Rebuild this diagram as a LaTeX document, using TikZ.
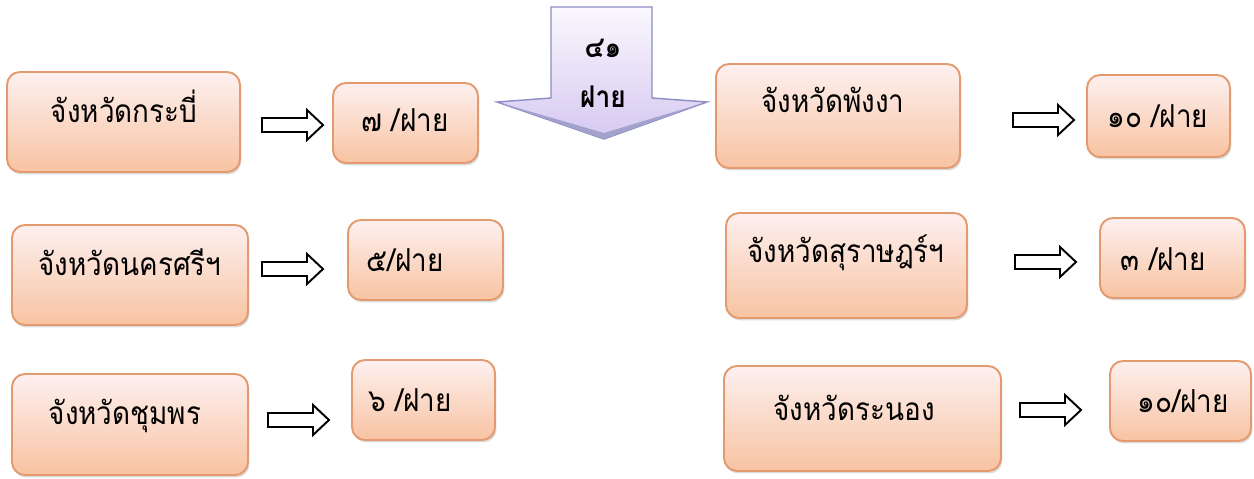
\documentclass[tikz,border=0pt]{standalone}
\usepackage{fontspec}
\newfontfamily\thaifont[Script=Thai,FakeStretch=0.88]{Loma}
\usetikzlibrary{fit,shadows,calc}
\definecolor{boxline}{HTML}{E39A6E}
\definecolor{boxtop}{HTML}{FDF0EF}
\definecolor{boxbot}{HTML}{F8C3A2}
\definecolor{bigline}{HTML}{8C8CC8}
\definecolor{bigtop}{HTML}{FBF8FE}
\definecolor{bigbot}{HTML}{D5C8F0}
\definecolor{bigdark}{HTML}{7C7AB8}
\tikzset{
  pbox/.style={draw=boxline, line width=1.1pt, rounded corners=0.26cm,
    top color=boxtop, bottom color=boxbot, inner sep=0pt,
    drop shadow={opacity=0.28, shadow xshift=0.8pt, shadow yshift=-1.4pt}},
  ptext/.style={font=\thaifont\fontsize{18}{21}\selectfont, inner sep=0pt, anchor=base},
  btext/.style={font=\thaifont\bfseries\fontsize{17}{20}\selectfont, inner sep=0pt, anchor=base},
  blockarr/.pic={\draw[line width=1.1pt, fill=white, line join=miter]
    (0,-7) -- (45,-7) -- (45,-15) -- (61,0) -- (45,15) -- (45,7) -- (0,7) -- cycle;}
}
\begin{document}
\begin{tikzpicture}[x=0.02cm,y=-0.02cm]
\useasboundingbox (0,0) rectangle (1254,479);
% big arrow
\path[draw=bigline, line width=0.8pt, top color=bigtop, bottom color=bigbot, line join=miter]
  (551,7) coordinate (bt) -- (652,7) -- (652,98) -- (707,102) -- (604,139) coordinate (tip)
  -- (497,102) -- (551,98) -- cycle;
\fill[bigdark!70] (497,102) -- (604,139) -- (707,102) -- (604,133) -- cycle;
\node[btext] (n41) at (603,58) {๔๑};
\node[btext] (nfai) at (603,108) {ฝาย};
% left column
\node[pbox, fit={(7,72) (240,172)}] (p1) {};
\node[ptext] (t1) at (124,123) {จังหวัดกระบี่};
\node[pbox, fit={(333,83) (478,163)}] (c1) {};
\node[ptext] (u1) at (405,132) {๗ /ฝาย};
\pic (a1) at (262,125) {blockarr};

\node[pbox, fit={(12,225) (248,325)}] (p2) {};
\node[ptext] (t2) at (130,276) {จังหวัดนครศรีฯ};
\node[pbox, fit={(348,220) (503,300)}] (c2) {};
\node[ptext] (u2) at (405,272) {๕/ฝาย};
\pic (a2) at (262,269) {blockarr};

\node[pbox, fit={(12,374) (248,475)}] (p3) {};
\node[ptext] (t3) at (125,424) {จังหวัดชุมพร};
\node[pbox, fit={(352,360) (495,440)}] (c3) {};
\node[ptext] (u3) at (410,412) {๖ /ฝาย};
\pic (a3) at (268,420) {blockarr};
% right column
\node[pbox, fit={(716,64) (960,168)}] (p4) {};
\node[ptext] (t4) at (833,113) {จังหวัดพังงา};
\node[pbox, fit={(1087,75) (1230,157)}] (c4) {};
\node[ptext] (u4) at (1158,128) {๑๐ /ฝาย};
\pic (a4) at (1013,120) {blockarr};

\node[pbox, fit={(726,213) (967,318)}] (p5) {};
\node[ptext] (t5) at (846,263) {จังหวัดสุราษฎร์ฯ};
\node[pbox, fit={(1100,218) (1245,298)}] (c5) {};
\node[ptext] (u5) at (1163,271) {๓ /ฝาย};
\pic (a5) at (1015,262) {blockarr};

\node[pbox, fit={(724,366) (1001,471)}] (p6) {};
\node[ptext] (t6) at (854,420) {จังหวัดระนอง};
\node[pbox, fit={(1110,361) (1251,441)}] (c6) {};
\node[ptext] (u6) at (1183,413) {๑๐/ฝาย};
\pic (a6) at (1020,410) {blockarr};
\end{tikzpicture}
\end{document}
